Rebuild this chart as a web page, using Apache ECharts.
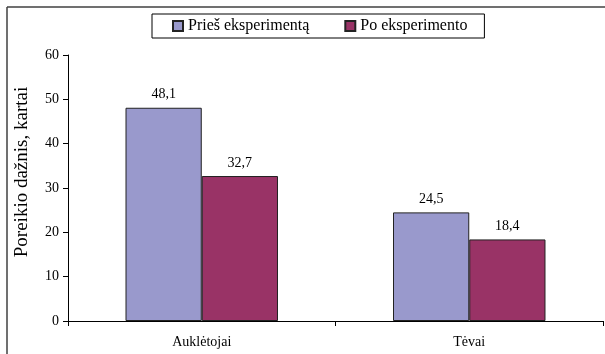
<!DOCTYPE html>
<html>
<head>
<meta charset="utf-8">
<script src="https://cdn.jsdelivr.net/npm/echarts@6/dist/echarts.min.js"></script>
<style>
html,body{margin:0;padding:0;background:#fff;}
#main{width:605px;height:354px;}
</style>
</head>
<body>
<div id="main"></div>
<script>
var categories = ['Auklėtojai', 'Tėvai'];
var seriesNames = ['Prieš eksperimentą', 'Po eksperimento'];
var before = [48.1, 24.5];
var after = [32.7, 18.4];
var yTicks = [0, 10, 20, 30, 40, 50, 60];
var yTitle = 'Poreikio dažnis, kartai';

var FONT = "'Liberation Serif', 'Times New Roman', serif";
var chart = echarts.init(document.getElementById('main'));
function fmt(p){ return String(p.value).replace('.', ','); }
var labelCfg = {show:true, position:'top', distance:6, formatter:fmt, color:'#000', fontFamily:FONT, fontSize:14};
chart.setOption({
  animation:false,
  textStyle:{fontFamily:FONT},
  graphic:[
    {type:'line', shape:{x1:7, y1:7, x2:605, y2:7}, style:{stroke:'#404040', lineWidth:1.5}},
    {type:'line', shape:{x1:7, y1:7, x2:7, y2:354}, style:{stroke:'#404040', lineWidth:1.5}},
    {type:'text', x:22, y:172, rotation:Math.PI/2,
     style:{text:yTitle, fontFamily:FONT, fontSize:19, fill:'#000', textAlign:'center', textVerticalAlign:'middle'}}
  ],
  legend:{
    left:152, top:14,
    padding:[4, 17, 4, 20],
    borderColor:'#000', borderWidth:1,
    itemWidth:10, itemHeight:10, itemGap:35,
    icon:'rect',
    textStyle:{fontFamily:FONT, fontSize:16, color:'#000'},
    data:seriesNames
  },
  grid:{left:68, right:2, top:55, bottom:33},
  xAxis:{
    type:'category', data:categories,
    axisLine:{lineStyle:{color:'#000', width:1}},
    axisTick:{show:true, length:5, lineStyle:{color:'#000'}},
    axisLabel:{color:'#000', fontFamily:FONT, fontSize:14, margin:14}
  },
  yAxis:{
    type:'value', min:yTicks[0], max:yTicks[yTicks.length-1], interval:10,
    axisLine:{show:true, lineStyle:{color:'#000', width:1}},
    axisTick:{show:true, length:5, lineStyle:{color:'#000'}},
    axisLabel:{color:'#000', fontFamily:FONT, fontSize:14, margin:9},
    splitLine:{show:false}
  },
  series:[
    {name:seriesNames[0], type:'bar', data:before, barGap:'0%', barCategoryGap:'43%',
     itemStyle:{color:'#9999CC', borderColor:'#222', borderWidth:1}, label:labelCfg},
    {name:seriesNames[1], type:'bar', data:after,
     itemStyle:{color:'#993366', borderColor:'#222', borderWidth:1}, label:labelCfg}
  ]
});
</script>
</body>
</html>
